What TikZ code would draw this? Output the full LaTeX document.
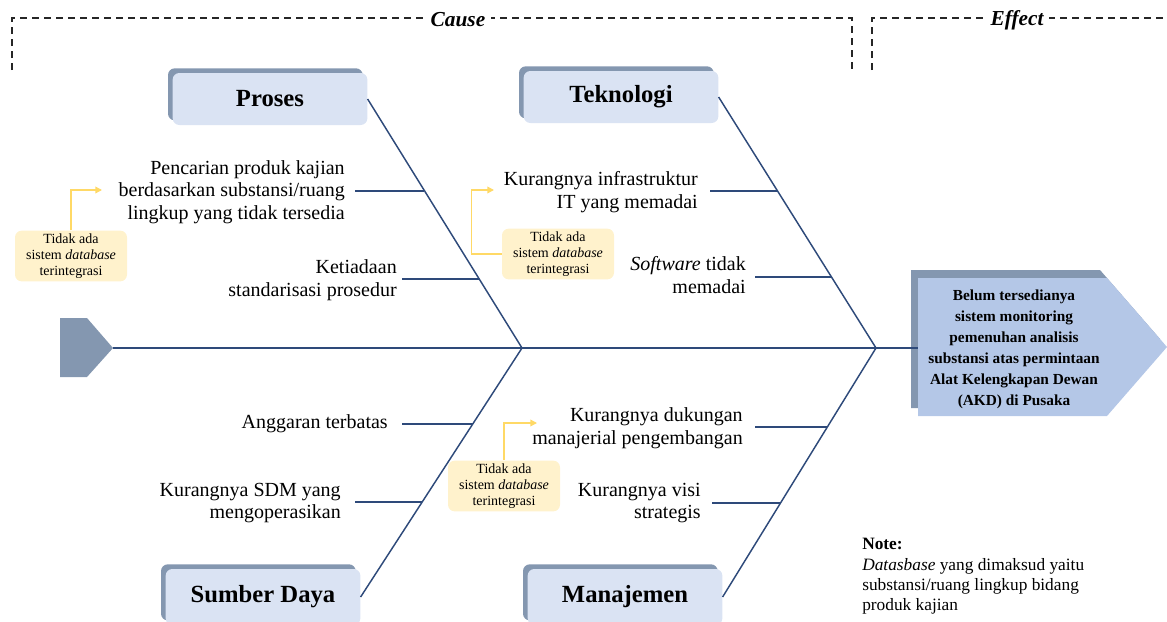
\documentclass[tikz,border=0pt]{standalone}
\usepackage{fontspec}
\setmainfont{Liberation Serif}
\usetikzlibrary{shadows,calc,arrows.meta}
\definecolor{bonec}{HTML}{2E4A7A}
\definecolor{catface}{HTML}{DAE3F3}
\definecolor{catshadow}{HTML}{8497B0}
\definecolor{effface}{HTML}{B4C7E7}
\definecolor{effshadow}{HTML}{8497B0}
\definecolor{tailc}{HTML}{8497B0}
\definecolor{callfill}{HTML}{FFF2CC}
\definecolor{callline}{HTML}{FFD966}
\begin{document}
\begin{tikzpicture}[x=0.75pt,y=-0.75pt,
  catbox/.style={rounded corners=5pt, fill=catface, minimum width=146pt, minimum height=39pt,
    font=\fontsize{18.5}{22}\selectfont\bfseries,
    general shadow={fill=catshadow, shadow xshift=-3.5pt, shadow yshift=3.5pt}},
  bone/.style={draw=bonec, line width=1.1pt},
  spine/.style={draw=bonec, line width=1.3pt},
  causetxt/.style={font=\fontsize{15}{17}\selectfont, align=right, anchor=east, inner sep=0pt},
  callout/.style={fill=callfill, rounded corners=5pt, minimum width=84pt, minimum height=38pt,
    align=center, font=\fontsize{10.5}{12}\selectfont, inner sep=1pt},
  callarrow/.style={draw=callline, line width=1pt, -{Triangle[length=5pt,width=5pt]}},
  bracket/.style={draw=black!85, line width=1.1pt, dash pattern=on 5.25pt off 3.75pt},
  headtxt/.style={fill=white, font=\fontsize{16}{18}\selectfont\bfseries\itshape, inner xsep=4pt}
]
\useasboundingbox (0,0) rectangle (1167,621);

% brackets
\coordinate (bl1) at (12,70);
\coordinate (bl2) at (852,70);
\coordinate (br1) at (872,70);
\coordinate (br2) at (1167,18);
\draw[bracket] (bl1) |- (852,18) -- (bl2);
\draw[bracket] (br1) |- (br2);
\node[headtxt] (cause) at (458,20) {Cause};
\node[headtxt] (effecth) at (1017,20) {Effect};

% tail
\fill[tailc] (60,318) -- (87,318) -- (113,348) -- (87,377) -- (60,377) -- cycle;
\coordinate (tailtip) at (113,348);

% effect box
\fill[effshadow] (911,270) -- (1100,270) -- (1160,339) -- (1100,408) -- (911,408) -- cycle;
\fill[effface] (918,278) -- (1107,278) -- (1167,347) -- (1107,416) -- (918,416) -- cycle;
\coordinate (effin) at (918,348);
\node[align=center, font=\fontsize{11.5}{15.8}\selectfont\bfseries, inner sep=0pt] (effect) at (1014,349)
  {Belum tersedianya\\sistem monitoring\\pemenuhan analisis\\substansi atas permintaan\\Alat Kelengkapan Dewan\\(AKD) di Pusaka};

% spine
\coordinate (j1) at (522,348);
\coordinate (j2) at (876,348);
\draw[spine] (tailtip) -- (effin);

% categories
\node[catbox] (proses) at (270,99) {Proses};
\node[catbox] (teknologi) at (621,97) {Teknologi};
\node[catbox, minimum height=42pt] (sumber) at (263,597) {Sumber Daya};
\node[catbox, minimum height=42pt] (manajemen) at (625,597) {Manajemen};

\draw[bone] (proses.east) -- (j1);
\draw[bone] (teknologi.east) -- (j2);
\draw[bone] (sumber.east) -- (j1);
\draw[bone] (manajemen.east) -- (j2);

% bone points
\coordinate (bp1) at (424,191);
\coordinate (bp2) at (479,279);
\coordinate (bt1) at (777.5,191);
\coordinate (bt2) at (831.5,277);
\coordinate (bs1) at (472.7,424);
\coordinate (bs2) at (422.1,502);
\coordinate (bm1) at (827.3,427);
\coordinate (bm2) at (780.4,503);

% cause texts
\node[causetxt] (p1) at (345,192) {Pencarian produk kajian\\berdasarkan substansi/ruang\\lingkup yang tidak tersedia};
\node[causetxt] (p2) at (397,280) {Ketiadaan\\standarisasi prosedur};
\node[causetxt] (t1) at (698,192) {Kurangnya infrastruktur\\IT yang memadai};
\node[causetxt] (t2) at (746,275) {\textit{Software} tidak\\memadai};
\node[causetxt] (s1) at (388,424) {Anggaran terbatas};
\node[causetxt] (s2) at (341,503) {Kurangnya SDM yang\\mengoperasikan};
\node[causetxt] (m1) at (743,428) {Kurangnya dukungan\\manajerial pengembangan};
\node[causetxt] (m2) at (701,503) {Kurangnya visi\\strategis};

\draw[bone] (bp1 -| 355,0) -- (bp1);
\draw[bone] (bp2 -| 402,0) -- (bp2);
\draw[bone] (bt1 -| 710,0) -- (bt1);
\draw[bone] (bt2 -| 755,0) -- (bt2);
\draw[bone] (bs1 -| 402,0) -- (bs1);
\draw[bone] (bs2 -| 355,0) -- (bs2);
\draw[bone] (bm1 -| 755,0) -- (bm1);
\draw[bone] (bm2 -| 712,0) -- (bm2);

% callouts
\node[callout] (c1) at (71,256) {Tidak ada\\sistem \textit{database}\\terintegrasi};
\node[callout] (c2) at (558,254) {Tidak ada\\sistem \textit{database}\\terintegrasi};
\node[callout] (c3) at (504,486) {Tidak ada\\sistem \textit{database}\\terintegrasi};
\coordinate (a1) at (102,190);
\coordinate (a2) at (494,190);
\coordinate (a3) at (537,423);
\draw[callarrow] (c1.north) |- (a1);
\draw[callarrow] (c2.west) -- ++(-30,0) |- (a2);
\draw[callarrow] (c3.north) |- (a3);

% note
\node[anchor=north west, align=left, font=\fontsize{13}{15.3}\selectfont, inner sep=0pt] (note) at (862,538)
  {\textbf{Note:}\\\textit{Datasbase} yang dimaksud yaitu\\substansi/ruang lingkup bidang\\produk kajian};
\end{tikzpicture}
\end{document}
